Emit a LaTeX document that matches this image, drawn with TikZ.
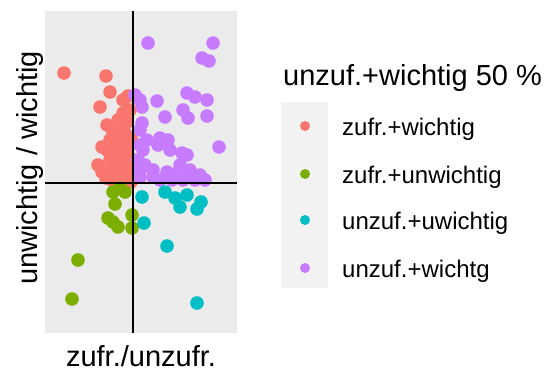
\documentclass[tikz,border=0pt]{standalone}
\usepackage{fontspec}
\setmainfont{Liberation Sans}

\definecolor{rojo}{HTML}{F8766D}
\definecolor{verde}{HTML}{7CAE00}
\definecolor{cian}{HTML}{00BFC4}
\definecolor{lila}{HTML}{C77CFF}
\definecolor{panel}{HTML}{EBEBEB}
\definecolor{clave}{HTML}{F2F2F2}

\tikzset{
  eje/.style={line width=1.4pt, black},
  textogrande/.style={font=\fontsize{29}{34}\selectfont},
  textoclave/.style={font=\fontsize{24}{28}\selectfont, anchor=base west}
}

\begin{document}
\begin{tikzpicture}[x=1pt,y=-1pt]
        \useasboundingbox (0,0) rectangle (548,372);

        % Fondo del panel
        \fill[panel] (45,11) rectangle (237,333);

        % Puntos
        \foreach \x/\y in {64/73,106/76,110/92,100/107,107/125,102/147,98/165,104/172,112/180,
            123/100,128/96,123/113,130/110,118/120,127/122,120/127,113/133,125/133,131/138,
            110/140,120/142,128/148,107/150,115/150,122/155,130/158,110/160,116/163,124/165,
            131/168,102/172,112/172,120/175,128/178,106/178,117/181,125/181,131/182}
            \fill[rojo] (\x,\y) circle (6.8pt);
        \foreach \x/\y in {148/43,213/43,202/58,209/61,135/95,140/100,157/101,187/93,195/97,
            207/100,183/110,188/118,207/116,165/117,142/107,142/123,140/130,219/147,182/153,
            147/140,160/138,168/140,170/150,143/150,140/145,158/145,138/160,145/165,140/170,
            153/170,167/172,177/173,190/170,200/175,140/177,153/177,160/180,172/180,183/180,
            195/180,205/180,180/165,187/155}
            \fill[lila] (\x,\y) circle (6.8pt);
        \foreach \x/\y in {113/192,125/192,120/188,115/204,108/218,113/222,118/227,132/215,
            132/228,78/260,72/299}
            \fill[verde] (\x,\y) circle (6.8pt);
        \foreach \x/\y in {142/197,165/192,175/198,187/195,180/207,201/202,197/209,144/223,
            167/246,197/303}
            \fill[cian] (\x,\y) circle (6.8pt);

        % Ejes coordenados
        \draw[eje] (133,11) -- (133,333);
        \draw[eje] (45,183) -- (237,183);

        % Titulos de los ejes
        \node[textogrande, anchor=base] (ejex) at (141,366) {zufr./unzufr.};
        \node[textogrande, anchor=base, rotate=90] (ejey) at (37,168) {unwichtig / wichtig};

        % Leyenda
        \node[textogrande, anchor=base west, inner sep=0pt] (titulo) at (283,85) {unzuf.+wichtig 50 \%};
        \fill[clave] (281,102) rectangle (328,288);
        \foreach \c/\y/\lab [count=\i] in {rojo/126/zufr.+wichtig, verde/174/zufr.+unwichtig,
            cian/220/unzuf.+uwichtig, lila/268/unzuf.+wichtg}
        {
            \fill[\c] (305,\y) circle (5pt);
            \node[textoclave, inner sep=0pt] (clave\i) at (342,\y+9) {\lab};
        }
\end{tikzpicture}
\end{document}
